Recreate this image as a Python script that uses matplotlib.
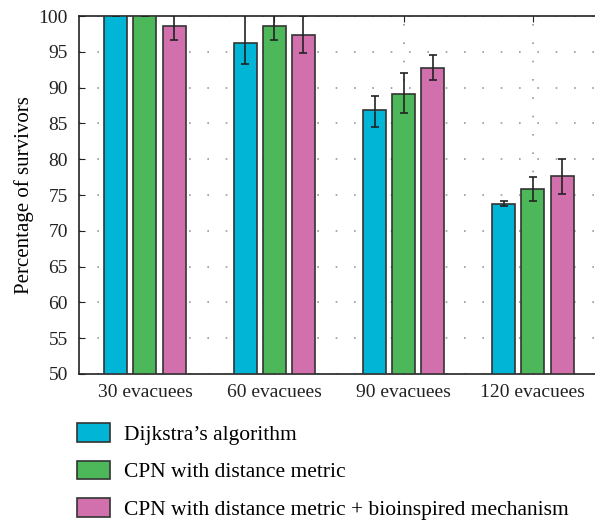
import numpy as np
import matplotlib.pyplot as plt
from matplotlib.patches import Patch

groups = ["30 evacuees", "60 evacuees", "90 evacuees", "120 evacuees"]
series = ["Dijkstra’s algorithm", "CPN with distance metric",
          "CPN with distance metric + bioinspired mechanism"]
values = [
    [100.0, 96.3, 86.9, 73.8],
    [100.0, 98.6, 89.1, 75.8],
    [98.6, 97.3, 92.8, 77.6],
]
err_low = [
    [0.0, 3.0, 2.4, 0.4],
    [0.0, 2.0, 2.6, 1.7],
    [2.0, 2.4, 1.7, 2.5],
]
err_high = [
    [0.0, 4.0, 2.0, 0.3],
    [0.0, 2.0, 3.0, 1.7],
    [2.0, 2.7, 1.7, 2.4],
]
colors = ["#00B5D5", "#4CB85A", "#D170AC"]

plt.rcParams['font.family'] = ['Liberation Serif', 'DejaVu Serif']
plt.rcParams['font.size'] = 14

fig = plt.figure(figsize=(5.95, 5.2), dpi=100)
ax = fig.add_axes([0.1328, 0.281, 0.8672, 0.688])

x = np.arange(len(groups))
pitch = 0.225
width = 0.178
for i, (vals, col) in enumerate(zip(values, colors)):
    pos = x + (i - 1) * pitch
    ax.bar(pos, [v - 50 for v in vals], width, bottom=50, color=col,
           edgecolor='#333333', linewidth=1.2, zorder=3)
    ax.errorbar(pos, vals, yerr=[err_low[i], err_high[i]], fmt='none',
                ecolor='#222222', elinewidth=1.2, capsize=3, capthick=1.2,
                zorder=4)

ax.set_ylim(50, 100)
ax.set_xlim(-0.51, 3.48)
ax.set_yticks(range(50, 101, 5))
ax.set_xticks(x)
ax.set_xticklabels(groups)
ax.set_ylabel("Percentage of survivors", fontsize=15)
ax.yaxis.set_label_coords(-0.088, 0.5)

ax.grid(True, color='#999999', linestyle=(0, (1, 10)), linewidth=1.2, zorder=0)
ax.spines['right'].set_visible(False)
for s in ['top', 'left', 'bottom']:
    ax.spines[s].set_linewidth(1.2)
    ax.spines[s].set_color('#222222')
ax.tick_params(axis='both', direction='in', length=4, top=True, colors='#222222',
               labelcolor='#222222')
ax.tick_params(axis='x', pad=7)
ax.tick_params(axis='y', pad=8)

handles = [Patch(facecolor=c, edgecolor='#333333', linewidth=1.2) for c in colors]
fig.legend(handles, series, loc='upper left', bbox_to_anchor=(0.129, 0.186),
           frameon=False, fontsize=15.5, handlelength=1.55, handleheight=0.93,
           handletextpad=0.65, labelspacing=0.74, borderaxespad=0, borderpad=0)

fig.savefig("out.png", dpi=100)
